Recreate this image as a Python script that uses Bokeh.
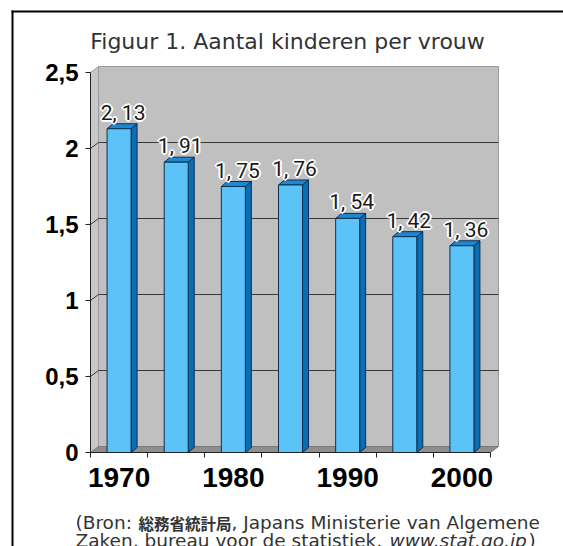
from bokeh.plotting import figure
from bokeh.models import (Range1d, FixedTicker, CustomJSTickFormatter, Label,
                          GlobalInlineStyleSheet)
from bokeh.core.properties import value
from bokeh.embed import file_html
from bokeh.resources import INLINE

# --- data -------------------------------------------------------------
years = [1970, 1975, 1980, 1985, 1990, 1995, 2000]
births_per_woman = [2.13, 1.91, 1.75, 1.76, 1.54, 1.42, 1.36]
year_ticks = [1970, 1980, 1990, 2000]
value_ticks = [0, 0.5, 1, 1.5, 2, 2.5]

title_text = "Figuur 1. Aantal kinderen per vrouw"
source_open = "(Bron: "
source_agency = "総務省統計局"
source_rest = ", Japans Ministerie van Algemene"
source_line2 = "Zaken, bureau voor de statistiek, "
source_url = "www.stat.go.jp"
source_close = ")"

# value labels written the way the chart prints them ("2, 13")
value_labels = [f"{v:.2f}".replace(".", ", ") for v in births_per_woman]

# --- layout (pixels) --------------------------------------------------
W, H = 563, 546
AXIS_X0, AXIS_Y0 = 90, 452   # where the two axes meet on the page
AXIS_W_PX = 400              # length of the category axis
AXIS_H_PX = 380              # length of the value axis (0 .. 2.5)
STEP = 5                     # years per category
x_lo = years[0] - STEP / 2
x_hi = years[-1] + STEP / 2
y_top = value_ticks[-1]
px_x = AXIS_W_PX / (x_hi - x_lo)
px_y = AXIS_H_PX / y_top


def page_x(px):
    """Page pixel column -> data x."""
    return x_lo + (px - AXIS_X0) / px_x


def page_y(py):
    """Page pixel row (from the top) -> data y."""
    return (AXIS_Y0 - py) / px_y


# 3-D depth of the back wall and of the bars
wdx, wdy = 8 / px_x, 6 / px_y
bdx, bdy = 6 / px_x, 5 / px_y
bw = 24 / px_x

# the plot frame fills the page; the axes sit at fixed data positions
p = figure(width=W, height=H, output_backend="svg", toolbar_location=None,
           x_range=Range1d(page_x(0), page_x(W)),
           y_range=Range1d(page_y(H), page_y(0)),
           min_border=0)
# the page holds exactly one chart: no scrollbars
p.stylesheets = [GlobalInlineStyleSheet(css="html, body { margin: 0; overflow: hidden; }")]
p.title.visible = False
p.outline_line_color = None
p.background_fill_color = "white"
p.border_fill_color = "white"
p.xgrid.visible = False
p.ygrid.visible = False

# page frame (left and top edges)
p.segment(x0=[page_x(12), page_x(11)], y0=[page_y(10), page_y(11)],
          x1=[page_x(12), page_x(W)], y1=[page_y(H), page_y(11)],
          line_color="black", line_width=2)

# --- walls and floor --------------------------------------------------
p.patch([x_lo, x_lo + wdx, x_lo + wdx, x_lo], [0, wdy, y_top + wdy, y_top],
        fill_color="#c8c8c8", line_color="#9a9a9a", line_width=1)
p.quad(left=x_lo + wdx, right=x_hi + wdx, bottom=wdy, top=y_top + wdy,
       fill_color="#c0c0c0", line_color="#9a9a9a", line_width=1)
p.patch([x_lo, x_hi, x_hi + wdx, x_lo + wdx], [0, 0, wdy, wdy],
        fill_color="#8e8e8e", line_color="#7a7a7a", line_width=1)

grid_vals = [t for t in value_ticks if 0 < t < y_top]
p.segment(x0=[x_lo + wdx] * len(grid_vals), y0=[t + wdy for t in grid_vals],
          x1=[x_hi + wdx] * len(grid_vals), y1=[t + wdy for t in grid_vals],
          line_color="#3a3a3a", line_width=1)
p.segment(x0=[x_lo] * len(grid_vals), y0=grid_vals,
          x1=[x_lo + wdx] * len(grid_vals), y1=[t + wdy for t in grid_vals],
          line_color="#3a3a3a", line_width=1)

# --- bars -------------------------------------------------------------
side_xs = [[x + bw / 2, x + bw / 2 + bdx, x + bw / 2 + bdx, x + bw / 2] for x in years]
side_ys = [[0, bdy, v + bdy, v] for v in births_per_woman]
top_xs = [[x - bw / 2, x + bw / 2, x + bw / 2 + bdx, x - bw / 2 + bdx] for x in years]
top_ys = [[v, v, v + bdy, v + bdy] for v in births_per_woman]

p.patches(side_xs, side_ys, fill_color="#0b6db3", line_color="#0d2f52", line_width=1)
p.patches(top_xs, top_ys, fill_color="#1d87cf", line_color="#0d2f52", line_width=1)
p.vbar(x=years, width=bw, top=births_per_woman, bottom=0,
       fill_color="#5cc3f8", line_color="#0d2f52", line_width=1)

# --- value labels with a white halo -----------------------------------
label_font = value("Roboto")
halo = [(-1, -1), (0, -1), (1, -1), (-1, 0), (1, 0), (-1, 1), (0, 1), (1, 1),
        (-2, 0), (2, 0), (0, -2), (0, 2)]
for ox, oy in halo:
    p.text(x=years, y=births_per_woman, text=value_labels,
           x_offset=4 + ox, y_offset=-16 + oy, text_color="white",
           text_align="center", text_baseline="alphabetic",
           text_font=label_font, text_font_size="21px")
p.text(x=years, y=births_per_woman, text=value_labels,
       x_offset=4, y_offset=-16, text_color="#1a1a1a",
       text_align="center", text_baseline="alphabetic",
       text_font=label_font, text_font_size="21px")

# --- axes -------------------------------------------------------------
cat_edges = [y - STEP / 2 for y in years] + [years[-1] + STEP / 2]
xa = p.xaxis[0]
xa.fixed_location = 0
xa.ticker = FixedTicker(ticks=year_ticks, minor_ticks=cat_edges)
xa.bounds = (x_lo, x_hi)
xa.axis_line_color = "#222222"
xa.major_tick_in = 0
xa.major_tick_out = 0
xa.minor_tick_in = 0
xa.minor_tick_out = 5
xa.minor_tick_line_color = "#222222"
xa.major_label_standoff = 10
xa.major_label_text_font = "Liberation Sans"
xa.major_label_text_font_style = "bold"
xa.major_label_text_font_size = "28px"
xa.major_label_text_color = "black"

ya = p.yaxis[0]
ya.fixed_location = x_lo
ya.ticker = FixedTicker(ticks=value_ticks, minor_ticks=[])
ya.bounds = (0, y_top)
ya.formatter = CustomJSTickFormatter(code="return tick.toString().replace('.', ',');")
ya.axis_line_color = "#222222"
ya.major_tick_in = 0
ya.major_tick_out = 5
ya.major_tick_line_color = "#222222"
ya.major_label_standoff = 7
ya.major_label_text_font = "Liberation Sans"
ya.major_label_text_font_style = "bold"
ya.major_label_text_font_size = "24px"
ya.major_label_text_color = "black"

# --- title and source note ----------------------------------------------
p.add_layout(Label(x=287, y=41, x_units="canvas", y_units="canvas",
                   text=title_text, text_align="center", text_baseline="middle",
                   text_font="DejaVu Sans", text_font_size="22px",
                   text_color="#333333"))

note_font = "DejaVu Sans"
note_size = "18.5px"
note_color = "#333333"
LINE1, LINE2 = 522, 540
pieces = [
    (75, LINE1, source_open, note_font, "normal", note_size),
    (138, LINE1, source_agency, "Noto Sans CJK JP", "bold", "15.5px"),
    (231, LINE1, source_rest, note_font, "normal", note_size),
    (75, LINE2, source_line2, note_font, "normal", note_size),
    (389, LINE2, source_url, note_font, "italic", note_size),
    (528, LINE2, source_close, note_font, "normal", note_size),
]
for px, py, txt, font, style, size in pieces:
    p.add_layout(Label(x=px, y=py, x_units="canvas", y_units="canvas",
                       text=txt, text_baseline="alphabetic",
                       text_font=font, text_font_style=style,
                       text_font_size=size, text_color=note_color))

open("out.html", "w").write(file_html(p, INLINE))
